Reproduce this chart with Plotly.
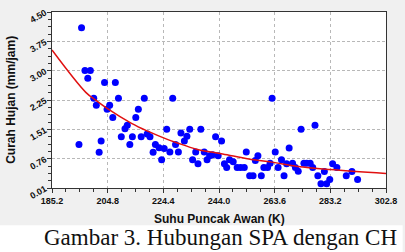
import plotly.graph_objects as go

# Observations: cloud-top temperature (K) vs rainfall (mm/jam)
suhu = [195.6, 196.8, 198.7, 197.8, 203.7, 207.5, 199.9, 208.6, 217.7, 200.8,
        205.5, 204.6, 206.6, 215.6, 214.7, 211.7, 210.9, 209.6, 213.5, 216.6,
        212.6, 194.7, 202.5, 201.8, 218.7, 219.7, 221.6, 222.9, 220.8, 223.8,
        224.7, 225.6, 227.7, 226.7, 228.7, 229.7, 230.6, 231.8, 232.7, 233.7,
        234.7, 235.8, 236.6, 237.6, 238.8, 239.8, 240.7, 241.7, 242.8, 243.7,
        244.9, 245.9, 246.7, 247.7, 249.0, 250.4, 251.6, 252.9, 253.6, 254.8,
        256.0, 256.8, 257.7, 258.9, 259.8, 261.1, 262.0, 262.7, 263.8, 268.7,
        264.8, 266.0, 266.9, 267.8, 269.9, 270.9, 271.9, 272.9, 273.9, 274.9,
        276.1, 277.0, 277.8, 278.8, 279.9, 281.1, 281.9, 283.0, 284.0, 285.5,
        288.8, 290.8, 292.8]
curah = [4.10, 3.01, 3.01, 2.81, 2.70, 2.70, 2.30, 2.30, 2.30, 2.12,
         2.12, 2.02, 1.81, 2.02, 1.81, 1.61, 1.52, 1.32, 1.32, 1.32,
         1.12, 1.12, 1.21, 0.92, 1.39, 1.32, 1.12, 1.04, 0.92, 0.73,
         1.02, 1.51, 2.30, 0.93, 1.12, 0.93, 1.41, 1.21, 1.33, 1.51,
         0.73, 0.93, 0.63, 1.51, 0.93, 0.73, 0.83, 0.86, 1.32, 0.83,
         1.21, 0.63, 0.53, 0.73, 0.68, 0.53, 0.53, 0.53, 0.93, 0.32,
         0.32, 0.71, 0.83, 0.32, 0.53, 0.53, 0.64, 2.30, 0.93, 1.03,
         0.53, 0.73, 0.32, 0.63, 0.64, 0.53, 0.44, 1.51, 0.64, 0.64,
         0.64, 0.53, 1.61, 0.32, 0.12, 0.43, 0.12, 0.23, 0.63, 0.53,
         0.32, 0.43, 0.23]

# Fitted curve
fit_x = [185.2, 197.1, 200.6, 204.6, 213.2, 218.9, 225.8, 229.3, 236.1,
         245.3, 254.5, 262.6, 271.7, 283.2, 302.8]
fit_y = [3.53, 2.45, 2.25, 2.04, 1.66, 1.46, 1.25, 1.16, 1.00,
         0.88, 0.75, 0.67, 0.56, 0.48, 0.38]

x_ticks = [185.2, 204.8, 224.4, 244.0, 263.6, 283.2, 302.8]
x_labels = ["185.2", "204.8", "224.4", "244.0", "263.6", "283.2", "302.8"]
y_ticks = [0.01, 0.7583, 1.5067, 2.255, 3.0033, 3.7517, 4.50]
y_labels = ["0.01", "0.76", "1.51", "2.25", "3.00", "3.75", "4.50"]

fig = go.Figure()
fig.add_trace(go.Scatter(x=suhu, y=curah, mode="markers",
                         marker=dict(color="#0000ff", size=7, line=dict(width=0)),
                         showlegend=False))
fig.add_trace(go.Scatter(x=fit_x, y=fit_y, mode="lines",
                         line=dict(color="#e01010", width=1.5, shape="spline", smoothing=1.0),
                         showlegend=False))

axis_font = dict(family="Liberation Sans, Arial", size=9, color="#111111")

fig.update_xaxes(range=[185.2, 302.8], tickvals=x_ticks,
                 ticktext=["<b>%s</b>" % t for t in x_labels],
                 tickfont=axis_font, ticks="outside", ticklen=4, tickcolor="#333",
                 showline=True, linecolor="#333", linewidth=1, mirror=True,
                 showgrid=True, gridcolor="#b8b8b8", griddash="dot", gridwidth=1,
                 zeroline=False,
                 minor=dict(dtick=4.9, tick0=185.2, ticks="outside", ticklen=3,
                            tickcolor="#333", showgrid=False))
fig.update_yaxes(range=[0.01, 4.50], tickvals=y_ticks,
                 ticktext=["<b>%s</b>" % t for t in y_labels],
                 tickfont=axis_font, tickangle=-30, ticks="outside", ticklen=4,
                 tickcolor="#333",
                 showline=True, linecolor="#333", linewidth=1, mirror=True,
                 showgrid=True, gridcolor="#b8b8b8", griddash="3px,2px", gridwidth=1,
                 zeroline=False,
                 minor=dict(dtick=0.74833 / 4, tick0=0.01, ticks="outside", ticklen=3,
                            tickcolor="#333", showgrid=False))

W, H = 405, 252
L, R, T, B = 52, 12, 8, 64
pw, ph = W - L - R, H - T - B

def px(xp):
    return (xp - L) / pw

def py(yp):
    return (H - B - yp) / ph

fig.update_layout(
    width=W, height=H,
    margin=dict(l=L, r=R, t=T, b=B),
    paper_bgcolor="#f0f0f0", plot_bgcolor="white",
    shapes=[dict(type="rect", xref="paper", yref="paper", layer="below",
                 x0=px(-5), x1=px(W + 5), y0=py(226), y1=py(H + 5),
                 fillcolor="white", line=dict(width=0))],
    annotations=[
        dict(text="<b>Suhu Puncak Awan (K)</b>", xref="paper", yref="paper",
             x=0.5, y=py(220), xanchor="center", yanchor="middle", showarrow=False,
             font=dict(family="Liberation Sans, Arial", size=12, color="#111")),
        dict(text="<b>Curah Hujan (mm/jam)</b>", xref="paper", yref="paper",
             x=px(10), y=0.5, xanchor="center", yanchor="middle", showarrow=False,
             textangle=-90,
             font=dict(family="Liberation Sans, Arial", size=12, color="#111")),
        dict(text="Gambar 3. Hubungan SPA dengan CH", xref="paper", yref="paper",
             x=px(224), y=py(239), xanchor="center", yanchor="middle", showarrow=False,
             font=dict(family="Liberation Serif, Times New Roman", size=23, color="#111")),
    ],
)

fig.write_html("out.html")
